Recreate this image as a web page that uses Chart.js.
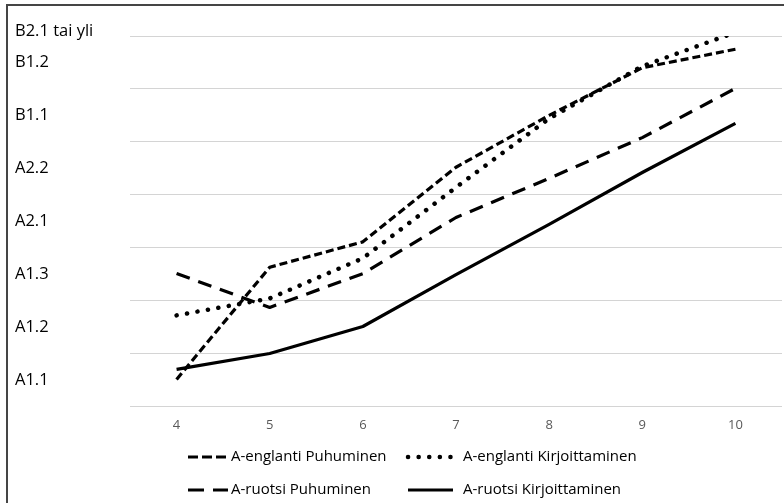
<!DOCTYPE html>
<html>
<head>
<meta charset="utf-8">
<script src="https://cdn.jsdelivr.net/npm/chart.js@4/dist/chart.umd.min.js"></script>
<style>
  html, body { margin: 0; padding: 0; background: #fff; overflow: hidden; }
  #wrap { position: relative; width: 784px; height: 503px; }
  #frame { position: absolute; left: 6px; top: 4px; width: 800px; height: 520px;
           border: 2px solid #454545; pointer-events: none; }
</style>
</head>
<body>
<div id="wrap">
  <canvas id="chart" width="784" height="503"></canvas>
  <div id="frame"></div>
</div>
<script>
// grades (x) and language levels (y)
const grades = ["4", "5", "6", "7", "8", "9", "10"];
const levels = ["A1.1", "A1.2", "A1.3", "A2.1", "A2.2", "B1.1", "B1.2", "B2.1 tai yli"];

const engPuhuminen = [0.51, 2.63, 3.11, 4.52, 5.50, 6.40, 6.75];
const engKirjoittaminen = [1.72, 2.04, 2.80, 4.14, 5.44, 6.43, 7.07];
const ruoPuhuminen = [2.51, 1.87, 2.51, 3.57, 4.31, 5.08, 6.01];
const ruoKirjoittaminen = [0.70, 1.00, 1.51, 2.49, 3.44, 4.42, 5.35];

const seriesNames = ["A-englanti Puhuminen", "A-englanti Kirjoittaminen",
                     "A-ruotsi Puhuminen", "A-ruotsi Kirjoittaminen"];

const FONT = "'Open Sans', 'Liberation Sans', sans-serif";

// level names sit in the band above each gridline
const levelLabels = {
  id: "levelLabels",
  afterDraw(chart) {
    const ctx = chart.ctx;
    const y = chart.scales.y;
    ctx.save();
    ctx.font = "16.5px " + FONT;
    ctx.fillStyle = "#000";
    ctx.textAlign = "left";
    ctx.textBaseline = "middle";
    levels.forEach((lab, i) => {
      let py = y.getPixelForValue(i + 0.5);
      py = Math.max(py, chart.chartArea.top - 5);
      ctx.fillText(lab, 15, py);
    });
    ctx.restore();
  }
};

// legend laid out in a 2x2 grid like the original
const gridLegend = {
  id: "gridLegend",
  afterDraw(chart) {
    const ctx = chart.ctx;
    const cols = [188, 408];
    const textX = [231, 463];
    const rows = [457, 490];
    ctx.save();
    ctx.font = "15px " + FONT;
    ctx.textBaseline = "middle";
    ctx.textAlign = "left";
    chart.data.datasets.forEach((ds, i) => {
      const c = i % 2;
      const x = cols[c];
      const yy = rows[Math.floor(i / 2)];
      const w = c === 0 ? 40 : 45;
      ctx.strokeStyle = ds.borderColor;
      ctx.lineWidth = ds.borderWidth;
      ctx.lineCap = ds.borderCapStyle;
      // legend keys use slightly longer dashes, as in the original
      ctx.setLineDash(ds.borderDash.length && ds.borderDash[0] > 1
        ? ds.borderDash.map((d, k) => (k % 2 ? d : d + 2)) : ds.borderDash);
      ctx.beginPath();
      ctx.moveTo(x, yy);
      ctx.lineTo(x + w, yy);
      ctx.stroke();
      ctx.setLineDash([]);
      ctx.fillStyle = "#000";
      ctx.fillText(ds.label, textX[c], yy);
    });
    ctx.restore();
  }
};

const mkSet = (label, data, dash, cap, width) => ({
  label,
  data,
  borderColor: "#000",
  backgroundColor: "#000",
  borderWidth: width,
  borderDash: dash,
  borderCapStyle: cap,
  borderJoinStyle: "round",
  pointRadius: 0,
  tension: 0,
  fill: false
});

const config = {
  type: "line",
  data: {
    labels: grades,
    datasets: [
      mkSet(seriesNames[0], engPuhuminen, [8, 4], "butt", 3.2),
      mkSet(seriesNames[1], engKirjoittaminen, [0.1, 10.5], "round", 4.5),
      mkSet(seriesNames[2], ruoPuhuminen, [14, 9], "butt", 3.2),
      mkSet(seriesNames[3], ruoKirjoittaminen, [], "butt", 3.2)
    ]
  },
  options: {
    responsive: false,
    animation: false,
    layout: { padding: { left: 130, right: 2, top: 36, bottom: 59 } },
    plugins: {
      legend: { display: false },
      tooltip: { enabled: false }
    },
    scales: {
      x: {
        offset: true,
        grid: { display: false, drawTicks: false },
        border: { display: false },
        ticks: { color: "#595959", font: { family: FONT, size: 13 }, padding: 11 }
      },
      y: {
        min: 0,
        max: 7,
        ticks: { stepSize: 1, display: false },
        grid: { color: "#d4d4d4", lineWidth: 1, drawTicks: false },
        border: { display: false }
      }
    }
  },
  plugins: [levelLabels, gridLegend]
};

let chart = new Chart(document.getElementById("chart"), config);
</script>
</body>
</html>
